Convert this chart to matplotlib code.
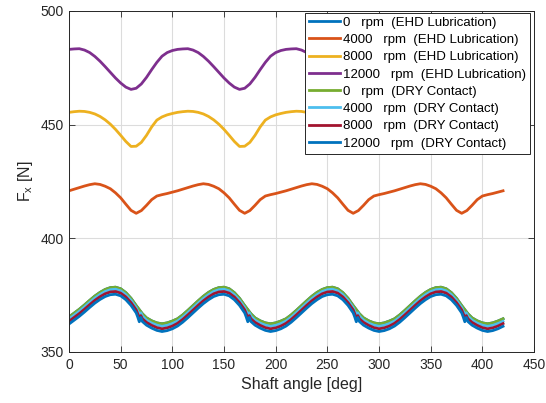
import numpy as np
from matplotlib import pyplot as plt

# Shaft angle grids (deg)
angle_ehd = list(range(0, 425, 5))

angle_dry = [0, 5, 10, 15, 20, 25, 30, 35, 40, 45, 50, 55, 60, 65, 66.5, 68, 69.5, 71, 75, 80, 85, 90, 95, 100,
             105, 110, 115, 120, 125, 130, 135, 140, 145, 150, 155, 160, 165, 170, 171.5, 173, 174.5, 176, 180, 185, 190, 195, 200, 205,
             210, 215, 220, 225, 230, 235, 240, 245, 250, 255, 260, 265, 270, 275, 276.5, 278, 279.5, 281, 285, 290, 295, 300, 305, 310,
             315, 320, 325, 330, 335, 340, 345, 350, 355, 360, 365, 370, 375, 380, 381.5, 383, 384.5, 386, 390, 395, 400, 405, 410, 415,
             420]

# Fx [N], EHD lubrication
fx_ehd_4000 = [420.9, 421.6, 422.3, 423.0, 423.6, 424.0, 423.7, 422.9, 421.8, 420.0, 417.8, 415.0, 412.3, 411.0, 412.2, 414.5, 417.0, 418.6, 419.2, 419.7, 420.3,
               420.9, 421.6, 422.3, 423.0, 423.6, 424.0, 423.7, 422.9, 421.8, 420.0, 417.8, 415.0, 412.3, 411.0, 412.2, 414.5, 417.0, 418.6, 419.2, 419.7, 420.3,
               420.9, 421.6, 422.3, 423.0, 423.6, 424.0, 423.7, 422.9, 421.8, 420.0, 417.8, 415.0, 412.3, 411.0, 412.2, 414.5, 417.0, 418.6, 419.2, 419.7, 420.3,
               420.9, 421.6, 422.3, 423.0, 423.6, 424.0, 423.7, 422.9, 421.8, 420.0, 417.8, 415.0, 412.3, 411.0, 412.2, 414.5, 417.0, 418.6, 419.2, 419.7, 420.3,
               420.9]

fx_ehd_8000 = [455.4, 455.7, 455.9, 455.8, 455.4, 454.7, 453.6, 452.1, 450.2, 447.9, 445.3, 442.6, 440.4, 440.5, 442.2, 445.3, 449.0, 452.0, 453.4, 454.3, 454.9,
               455.4, 455.7, 455.9, 455.8, 455.4, 454.7, 453.6, 452.1, 450.2, 447.9, 445.3, 442.6, 440.4, 440.5, 442.2, 445.3, 449.0, 452.0, 453.4, 454.3, 454.9,
               455.4, 455.7, 455.9, 455.8, 455.4, 454.7, 453.6, 452.1, 450.2, 447.9, 445.3, 442.6, 440.4, 440.5, 442.2, 445.3, 449.0, 452.0, 453.4, 454.3, 454.9,
               455.4, 455.7, 455.9, 455.8, 455.4, 454.7, 453.6, 452.1, 450.2, 447.9, 445.3, 442.6, 440.4, 440.5, 442.2, 445.3, 449.0, 452.0, 453.4, 454.3, 454.9,
               455.4]

fx_ehd_12000 = [483.1, 483.3, 483.4, 482.8, 481.7, 480.0, 477.9, 475.5, 473.0, 470.5, 468.3, 466.5, 465.5, 466.0, 467.9, 470.8, 474.2, 477.4, 480.1, 481.7, 482.6,
                483.1, 483.3, 483.4, 482.8, 481.7, 480.0, 477.9, 475.5, 473.0, 470.5, 468.3, 466.5, 465.5, 466.0, 467.9, 470.8, 474.2, 477.4, 480.1, 481.7, 482.6,
                483.1, 483.3, 483.4, 482.8, 481.7, 480.0, 477.9, 475.5, 473.0, 470.5, 468.3, 466.5, 465.5, 466.0, 467.9, 470.8, 474.2, 477.4, 480.1, 481.7, 482.6,
                483.1, 483.3, 483.4, 482.8, 481.7, 480.0, 477.9, 475.5, 473.0, 470.5, 468.3, 466.5, 465.5, 466.0, 467.9, 470.8, 474.2, 477.4, 480.1, 481.7, 482.6,
                483.1]

# Fx [N], dry contact
fx_dry_0 = [365.4, 367.1, 368.8, 370.7, 372.7, 374.6, 376.2, 377.5, 378.3, 378.5, 377.8, 376.1, 373.6, 370.4, 369.5, 368.6, 367.7, 366.8, 365.0, 363.7, 362.8, 362.4, 362.8, 363.6,
            364.6, 366.3, 368.3, 370.4, 372.5, 374.5, 376.2, 377.5, 378.3, 378.5, 377.8, 376.1, 373.6, 370.4, 369.5, 368.6, 367.7, 366.8, 365.0, 363.7, 362.8, 362.4, 362.8, 363.6,
            364.6, 366.3, 368.3, 370.4, 372.5, 374.5, 376.2, 377.5, 378.3, 378.5, 377.8, 376.1, 373.6, 370.4, 369.5, 368.6, 367.7, 366.8, 365.0, 363.7, 362.8, 362.4, 362.8, 363.6,
            364.6, 366.3, 368.3, 370.4, 372.5, 374.5, 376.2, 377.5, 378.3, 378.5, 377.8, 376.1, 373.6, 370.4, 369.5, 368.6, 367.7, 366.8, 365.0, 363.7, 362.8, 362.4, 362.8, 363.6,
            364.6]

fx_dry_4000 = [364.5, 366.2, 367.9, 369.8, 371.8, 373.7, 375.3, 376.6, 377.4, 377.6, 376.9, 375.2, 372.7, 369.5, 368.0, 366.8, 367.2, 365.8, 364.0, 362.7, 361.8, 361.3, 361.7, 362.5,
               363.6, 365.3, 367.3, 369.4, 371.5, 373.5, 375.2, 376.6, 377.4, 377.6, 376.9, 375.2, 372.7, 369.5, 368.0, 366.8, 367.2, 365.8, 364.0, 362.7, 361.8, 361.3, 361.7, 362.5,
               363.6, 365.3, 367.3, 369.4, 371.5, 373.5, 375.2, 376.6, 377.4, 377.6, 376.9, 375.2, 372.7, 369.5, 368.0, 366.8, 367.2, 365.8, 364.0, 362.7, 361.8, 361.3, 361.7, 362.5,
               363.6, 365.3, 367.3, 369.4, 371.5, 373.5, 375.2, 376.6, 377.4, 377.6, 376.9, 375.2, 372.7, 369.5, 368.0, 366.8, 367.2, 365.8, 364.0, 362.7, 361.8, 361.3, 361.7, 362.5,
               363.5]

fx_dry_8000 = [363.5, 365.2, 366.9, 368.8, 370.8, 372.7, 374.3, 375.6, 376.4, 376.6, 375.9, 374.2, 371.7, 368.5, 366.8, 365.0, 366.0, 364.6, 363.0, 361.7, 360.7, 360.2, 360.6, 361.4,
               362.6, 364.3, 366.3, 368.4, 370.5, 372.5, 374.2, 375.6, 376.4, 376.6, 375.9, 374.2, 371.7, 368.5, 366.8, 365.0, 366.0, 364.6, 363.0, 361.7, 360.7, 360.2, 360.6, 361.4,
               362.6, 364.3, 366.3, 368.4, 370.5, 372.5, 374.2, 375.6, 376.4, 376.6, 375.9, 374.2, 371.7, 368.5, 366.8, 365.0, 366.0, 364.6, 363.0, 361.7, 360.7, 360.2, 360.6, 361.4,
               362.6, 364.3, 366.3, 368.4, 370.5, 372.5, 374.2, 375.6, 376.4, 376.6, 375.9, 374.2, 371.7, 368.5, 366.8, 365.0, 366.0, 364.6, 363.0, 361.7, 360.7, 360.2, 360.6, 361.4,
               362.5]

fx_dry_12000 = [362.3, 364.0, 365.7, 367.6, 369.6, 371.5, 373.1, 374.4, 375.2, 375.4, 374.7, 373.0, 370.5, 367.2, 365.4, 363.3, 365.2, 363.4, 361.8, 360.5, 359.5, 359.0, 359.4, 360.2,
                361.4, 363.1, 365.1, 367.2, 369.3, 371.3, 373.0, 374.4, 375.2, 375.4, 374.7, 373.0, 370.5, 367.2, 365.4, 363.3, 365.2, 363.4, 361.8, 360.5, 359.5, 359.0, 359.4, 360.2,
                361.4, 363.1, 365.1, 367.2, 369.3, 371.3, 373.0, 374.4, 375.2, 375.4, 374.7, 373.0, 370.5, 367.2, 365.4, 363.3, 365.2, 363.4, 361.8, 360.5, 359.5, 359.0, 359.4, 360.2,
                361.4, 363.1, 365.1, 367.2, 369.3, 371.3, 373.0, 374.4, 375.2, 375.4, 374.7, 373.0, 370.5, 367.2, 365.4, 363.3, 365.2, 363.4, 361.8, 360.5, 359.5, 359.0, 359.4, 360.2,
                361.3]

# at 0 rpm the EHD curve sits under the dry one
fx_ehd_0 = fx_dry_0

labels = ['0   rpm  (EHD Lubrication)', '4000   rpm  (EHD Lubrication)',
          '8000   rpm  (EHD Lubrication)', '12000   rpm  (EHD Lubrication)',
          '0   rpm  (DRY Contact)', '4000   rpm  (DRY Contact)',
          '8000   rpm  (DRY Contact)', '12000   rpm  (DRY Contact)']

colors = ['#0072BD', '#D95319', '#EDB120', '#7E2F8E',
          '#77AC30', '#4DBEEE', '#A2142F', '#0072BD']

x_ticks = list(range(0, 451, 50))
y_ticks = [350, 400, 450, 500]


def main():
    plt.rcParams['font.family'] = ['Liberation Sans', 'DejaVu Sans']
    plt.rcParams['mathtext.default'] = 'regular'

    fig = plt.figure(figsize=(5.46, 4.03), dpi=100)
    ax = fig.add_axes([0.1264, 0.1266, 0.8517, 0.8462])

    series = [(angle_dry, fx_ehd_0), (angle_ehd, fx_ehd_4000), (angle_ehd, fx_ehd_8000), (angle_ehd, fx_ehd_12000),
              (angle_dry, fx_dry_0), (angle_dry, fx_dry_4000), (angle_dry, fx_dry_8000), (angle_dry, fx_dry_12000)]
    for (x, y), c, lab in zip(series, colors, labels):
        ax.plot(x, y, color=c, lw=2, label=lab, solid_joinstyle='round')

    ax.set_xlim(0, 450)
    ax.set_ylim(350, 500)
    ax.set_xticks(x_ticks)
    ax.set_yticks(y_ticks)
    ax.grid(True, color='#dcdcdc', lw=0.8)
    ax.set_axisbelow(True)
    ax.tick_params(direction='in', top=True, right=True, length=4, width=0.6,
                   colors='#262626', labelsize=10, pad=4)
    for s in ax.spines.values():
        s.set_color('#262626')
        s.set_linewidth(0.7)

    ax.set_xlabel('Shaft angle [deg]', fontsize=11.5, color='#262626')
    ax.set_ylabel(r'F$_{x}$ [N]', fontsize=11.5, color='#262626')

    leg = ax.legend(loc='upper right', bbox_to_anchor=(0.991, 0.995), borderaxespad=0,
                    fontsize=9.5, handlelength=2.3, handletextpad=0.25, labelspacing=0.38,
                    borderpad=0.3, fancybox=False, framealpha=1, edgecolor='#262626')
    leg.get_frame().set_linewidth(0.7)
    for t in leg.get_texts():
        t.set_color('#000000')

    fig.savefig('out.png', dpi=100)


if __name__ == "__main__":
    main()
